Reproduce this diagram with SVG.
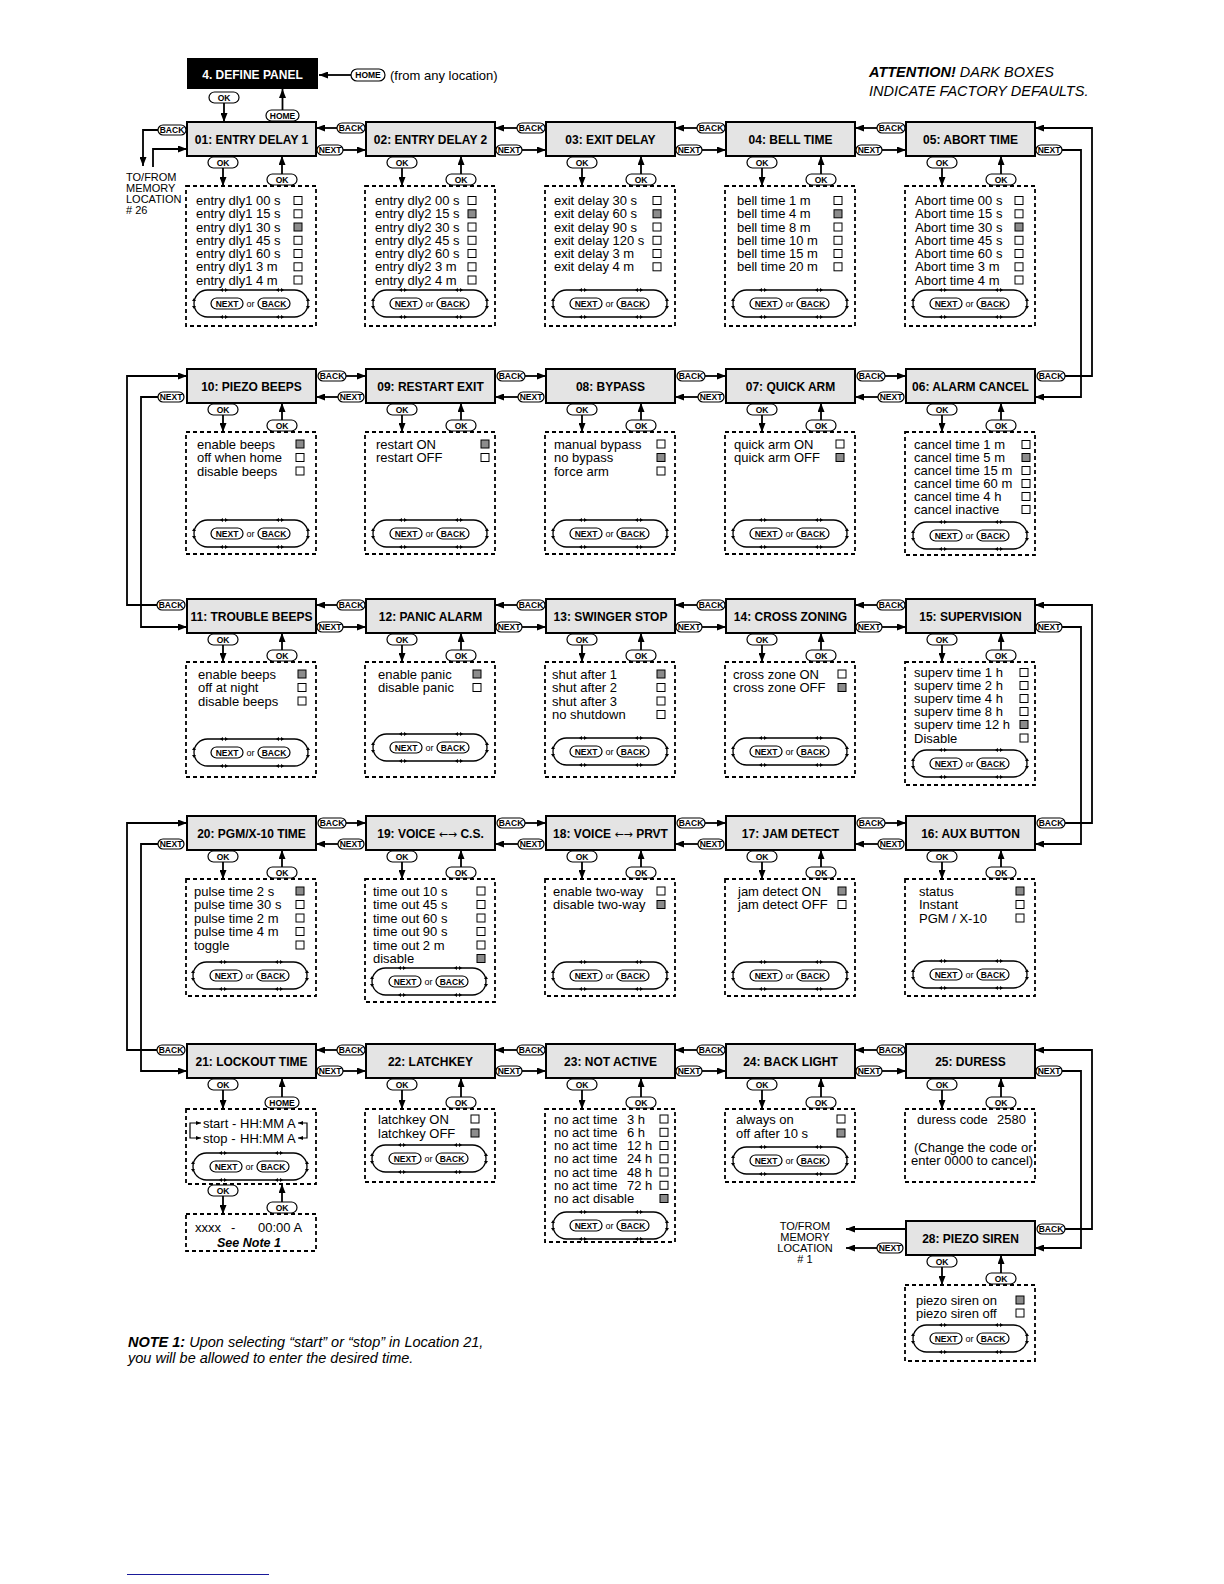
<svg xmlns="http://www.w3.org/2000/svg" width="1224" height="1584" viewBox="0 0 1224 1584">
<style>
text{font-family:"Liberation Sans",Arial,sans-serif;fill:#000}
.tt{font-size:12px;font-weight:bold;text-anchor:middle}
.ar2{font-family:"DejaVu Sans",sans-serif;font-weight:normal;font-size:11px}
.it{font-size:13px}
.sm{font-size:11px}
.pk{font-size:8.5px;font-weight:bold;text-anchor:middle}
.ok{font-size:8.5px;font-weight:bold;text-anchor:middle}
.or{font-size:9px;text-anchor:middle}
.bx{fill:#e4e4e4;stroke:#000;stroke-width:2}
.ds{fill:none;stroke:#000;stroke-width:1.8;stroke-dasharray:4 3}
.pl{fill:#fff;stroke:#000;stroke-width:1.2}
.c{fill:none;stroke:#000;stroke-width:1.8;marker-end:url(#a)}
.l{fill:none;stroke:#000;stroke-width:1.8}
.sb{fill:none;stroke:#000;stroke-width:1.2;marker-start:url(#s);marker-end:url(#s)}
</style>
<defs>
<marker id="a" viewBox="0 0 9 7" refX="9" refY="3.5" markerWidth="9" markerHeight="7" markerUnits="userSpaceOnUse" orient="auto"><path d="M0,0L9,3.5L0,7z"/></marker>
<marker id="s" viewBox="0 0 5 4" refX="5" refY="2" markerWidth="5" markerHeight="4" markerUnits="userSpaceOnUse" orient="auto-start-reverse"><path d="M0,0L5,2L0,4z"/></marker>
<rect id="e" width="8" height="8" fill="#fff" stroke="#000" stroke-width="1"/>
<rect id="f" width="8" height="8" fill="#8c8c8c" stroke="#000" stroke-width="1"/>
<g id="lp">
<rect width="114" height="27" rx="13.5" fill="none" stroke="#000" stroke-width="1.3"/>
<rect class="pl" x="17" y="8" width="32" height="11" rx="5.5"/>
<rect class="pl" x="64" y="8" width="32" height="11" rx="5.5"/>
<path d="M26,0l3,-2v4z M34,0l-3,-2v4z M82,0l3,-2v4z M90,0l-3,-2v4z M26,27l3,-2v4z M34,27l-3,-2v4z M82,27l3,-2v4z M90,27l-3,-2v4z M0,8l-2,3h4z M0,19l-2,-3h4z M114,8l-2,3h4z M114,19l-2,-3h4z"/>
</g>
</defs>
<rect width="1224" height="1584" fill="#fff"/>

<g id="notes">
<text x="869" y="77" style="font-size:14.5px;font-style:italic"><tspan style="font-weight:bold">ATTENTION!</tspan> DARK BOXES</text>
<text x="869" y="96" style="font-size:14.5px;font-style:italic">INDICATE FACTORY DEFAULTS.</text>
<text x="128" y="1347" style="font-size:14.5px;font-style:italic"><tspan style="font-weight:bold">NOTE 1:</tspan> Upon selecting “start” or “stop” in Location 21,</text>
<text x="128" y="1363" style="font-size:14.5px;font-style:italic">you will be allowed to enter the desired time.</text>
<line x1="127" y1="1574.5" x2="269" y2="1574.5" stroke="#1a1a9a" stroke-width="1"/>
</g>

<g id="n00">
<rect x="187" y="58" width="131" height="31" fill="#000"/>
<text class="tt" x="252.5" y="78.5" style="fill:#fff">4. DEFINE PANEL</text>
<text x="390" y="79.5" style="font-size:13px">(from any location)</text>
</g>

<g id="mem26">
<text class="sm" x="126" y="181">TO/FROM</text>
<text class="sm" x="126" y="191.5">MEMORY</text>
<text class="sm" x="126" y="202.5">LOCATION</text>
<text class="sm" x="126" y="213.5">#&#160;26</text>
</g>
<g id="mem1">
<text class="sm" x="805" y="1229.5" text-anchor="middle">TO/FROM</text>
<text class="sm" x="805" y="1240.5" text-anchor="middle">MEMORY</text>
<text class="sm" x="805" y="1251.5" text-anchor="middle">LOCATION</text>
<text class="sm" x="805" y="1262.5" text-anchor="middle"># 1</text>
</g>

<!-- ROW 1 -->
<g id="n01">
<rect class="bx" x="187" y="122" width="129" height="34"/>
<text class="tt" x="251.5" y="143.5">01: ENTRY DELAY 1</text>
<rect class="ds" x="186" y="186" width="130" height="140"/>
<text class="it" x="196" y="205">entry dly1 00 s</text>
<text class="it" x="196" y="218.3">entry dly1 15 s</text>
<text class="it" x="196" y="231.5">entry dly1 30 s</text>
<text class="it" x="196" y="244.8">entry dly1 45 s</text>
<text class="it" x="196" y="258">entry dly1 60 s</text>
<text class="it" x="196" y="271.3">entry dly1 3 m</text>
<text class="it" x="196" y="284.5">entry dly1 4 m</text>
<use href="#e" x="294" y="196.5"/><use href="#e" x="294" y="209.8"/><use href="#f" x="294" y="223"/><use href="#e" x="294" y="236.3"/><use href="#e" x="294" y="249.5"/><use href="#e" x="294" y="262.8"/><use href="#e" x="294" y="276"/>
<g transform="translate(194,290)"><use href="#lp"/><text class="pk" x="33" y="16.5">NEXT</text><text class="or" x="56.5" y="16.5">or</text><text class="pk" x="80" y="16.5">BACK</text></g>
</g>

<g id="n02">
<rect class="bx" x="366" y="122" width="129" height="34"/>
<text class="tt" x="430.5" y="143.5">02: ENTRY DELAY 2</text>
<rect class="ds" x="365" y="186" width="130" height="140"/>
<text class="it" x="375" y="205">entry dly2 00 s</text>
<text class="it" x="375" y="218.3">entry dly2 15 s</text>
<text class="it" x="375" y="231.5">entry dly2 30 s</text>
<text class="it" x="375" y="244.8">entry dly2 45 s</text>
<text class="it" x="375" y="258">entry dly2 60 s</text>
<text class="it" x="375" y="271.3">entry dly2 3 m</text>
<text class="it" x="375" y="284.5">entry dly2 4 m</text>
<use href="#e" x="468" y="196.5"/><use href="#f" x="468" y="209.8"/><use href="#e" x="468" y="223"/><use href="#e" x="468" y="236.3"/><use href="#e" x="468" y="249.5"/><use href="#e" x="468" y="262.8"/><use href="#e" x="468" y="276"/>
<g transform="translate(373,290)"><use href="#lp"/><text class="pk" x="33" y="16.5">NEXT</text><text class="or" x="56.5" y="16.5">or</text><text class="pk" x="80" y="16.5">BACK</text></g>
</g>

<g id="n03">
<rect class="bx" x="546" y="122" width="129" height="34"/>
<text class="tt" x="610.5" y="143.5">03: EXIT DELAY</text>
<rect class="ds" x="545" y="186" width="130" height="140"/>
<text class="it" x="554" y="205">exit delay 30 s</text>
<text class="it" x="554" y="218.3">exit delay 60 s</text>
<text class="it" x="554" y="231.5">exit delay 90 s</text>
<text class="it" x="554" y="244.8">exit delay 120 s</text>
<text class="it" x="554" y="258">exit delay 3 m</text>
<text class="it" x="554" y="271.3">exit delay 4 m</text>
<use href="#e" x="653" y="196.5"/><use href="#f" x="653" y="209.8"/><use href="#e" x="653" y="223"/><use href="#e" x="653" y="236.3"/><use href="#e" x="653" y="249.5"/><use href="#e" x="653" y="262.8"/>
<g transform="translate(553,290)"><use href="#lp"/><text class="pk" x="33" y="16.5">NEXT</text><text class="or" x="56.5" y="16.5">or</text><text class="pk" x="80" y="16.5">BACK</text></g>
</g>

<g id="n04">
<rect class="bx" x="726" y="122" width="129" height="34"/>
<text class="tt" x="790.5" y="143.5">04: BELL TIME</text>
<rect class="ds" x="725" y="186" width="130" height="140"/>
<text class="it" x="737" y="205">bell time 1 m</text>
<text class="it" x="737" y="218.3">bell time 4 m</text>
<text class="it" x="737" y="231.5">bell time 8 m</text>
<text class="it" x="737" y="244.8">bell time 10 m</text>
<text class="it" x="737" y="258">bell time 15 m</text>
<text class="it" x="737" y="271.3">bell time 20 m</text>
<use href="#e" x="834" y="196.5"/><use href="#f" x="834" y="209.8"/><use href="#e" x="834" y="223"/><use href="#e" x="834" y="236.3"/><use href="#e" x="834" y="249.5"/><use href="#e" x="834" y="262.8"/>
<g transform="translate(733,290)"><use href="#lp"/><text class="pk" x="33" y="16.5">NEXT</text><text class="or" x="56.5" y="16.5">or</text><text class="pk" x="80" y="16.5">BACK</text></g>
</g>

<g id="n05">
<rect class="bx" x="906" y="122" width="129" height="34"/>
<text class="tt" x="970.5" y="143.5">05: ABORT TIME</text>
<rect class="ds" x="905" y="186" width="130" height="140"/>
<text class="it" x="915" y="205">Abort time 00 s</text>
<text class="it" x="915" y="218.3">Abort time 15 s</text>
<text class="it" x="915" y="231.5">Abort time 30 s</text>
<text class="it" x="915" y="244.8">Abort time 45 s</text>
<text class="it" x="915" y="258">Abort time 60 s</text>
<text class="it" x="915" y="271.3">Abort time 3 m</text>
<text class="it" x="915" y="284.5">Abort time 4 m</text>
<use href="#e" x="1015" y="196.5"/><use href="#e" x="1015" y="209.8"/><use href="#f" x="1015" y="223"/><use href="#e" x="1015" y="236.3"/><use href="#e" x="1015" y="249.5"/><use href="#e" x="1015" y="262.8"/><use href="#e" x="1015" y="276"/>
<g transform="translate(913,290)"><use href="#lp"/><text class="pk" x="33" y="16.5">NEXT</text><text class="or" x="56.5" y="16.5">or</text><text class="pk" x="80" y="16.5">BACK</text></g>
</g>

<!-- ROW 2 -->
<g id="n10">
<rect class="bx" x="187" y="369" width="129" height="34"/>
<text class="tt" x="251.5" y="390.5">10: PIEZO BEEPS</text>
<rect class="ds" x="186" y="432" width="130" height="122"/>
<text class="it" x="197" y="448.5">enable beeps</text>
<text class="it" x="197" y="462">off when home</text>
<text class="it" x="197" y="475.5">disable beeps</text>
<use href="#f" x="296" y="440"/><use href="#e" x="296" y="453.5"/><use href="#e" x="296" y="467"/>
<g transform="translate(194,520)"><use href="#lp"/><text class="pk" x="33" y="16.5">NEXT</text><text class="or" x="56.5" y="16.5">or</text><text class="pk" x="80" y="16.5">BACK</text></g>
</g>

<g id="n09">
<rect class="bx" x="366" y="369" width="129" height="34"/>
<text class="tt" x="430.5" y="390.5">09: RESTART EXIT</text>
<rect class="ds" x="365" y="432" width="130" height="122"/>
<text class="it" x="376" y="448.5">restart ON</text>
<text class="it" x="376" y="462">restart OFF</text>
<use href="#f" x="481" y="440"/><use href="#e" x="481" y="453.5"/>
<g transform="translate(373,520)"><use href="#lp"/><text class="pk" x="33" y="16.5">NEXT</text><text class="or" x="56.5" y="16.5">or</text><text class="pk" x="80" y="16.5">BACK</text></g>
</g>

<g id="n08">
<rect class="bx" x="546" y="369" width="129" height="34"/>
<text class="tt" x="610.5" y="390.5">08: BYPASS</text>
<rect class="ds" x="545" y="432" width="130" height="122"/>
<text class="it" x="554" y="448.5">manual bypass</text>
<text class="it" x="554" y="462">no bypass</text>
<text class="it" x="554" y="475.5">force arm</text>
<use href="#e" x="657" y="440"/><use href="#f" x="657" y="453.5"/><use href="#e" x="657" y="467"/>
<g transform="translate(553,520)"><use href="#lp"/><text class="pk" x="33" y="16.5">NEXT</text><text class="or" x="56.5" y="16.5">or</text><text class="pk" x="80" y="16.5">BACK</text></g>
</g>

<g id="n07">
<rect class="bx" x="726" y="369" width="129" height="34"/>
<text class="tt" x="790.5" y="390.5">07: QUICK ARM</text>
<rect class="ds" x="725" y="432" width="130" height="122"/>
<text class="it" x="734" y="448.5">quick arm ON</text>
<text class="it" x="734" y="462">quick arm OFF</text>
<use href="#e" x="836" y="440"/><use href="#f" x="836" y="453.5"/>
<g transform="translate(733,520)"><use href="#lp"/><text class="pk" x="33" y="16.5">NEXT</text><text class="or" x="56.5" y="16.5">or</text><text class="pk" x="80" y="16.5">BACK</text></g>
</g>

<g id="n06">
<rect class="bx" x="906" y="369" width="129" height="34"/>
<text class="tt" x="970.5" y="390.5">06: ALARM CANCEL</text>
<rect class="ds" x="905" y="432" width="130" height="123"/>
<text class="it" x="914" y="449">cancel time 1 m</text>
<text class="it" x="914" y="462">cancel time 5 m</text>
<text class="it" x="914" y="475">cancel time 15 m</text>
<text class="it" x="914" y="488">cancel time 60 m</text>
<text class="it" x="914" y="501">cancel time 4 h</text>
<text class="it" x="914" y="514">cancel inactive</text>
<use href="#e" x="1022" y="440.5"/><use href="#f" x="1022" y="453.5"/><use href="#e" x="1022" y="466.5"/><use href="#e" x="1022" y="479.5"/><use href="#e" x="1022" y="492.5"/><use href="#e" x="1022" y="505.5"/>
<g transform="translate(913,522)"><use href="#lp"/><text class="pk" x="33" y="16.5">NEXT</text><text class="or" x="56.5" y="16.5">or</text><text class="pk" x="80" y="16.5">BACK</text></g>
</g>

<!-- ROW 3 -->
<g id="n11">
<rect class="bx" x="187" y="599" width="129" height="34"/>
<text class="tt" x="251.5" y="620.5">11: TROUBLE BEEPS</text>
<rect class="ds" x="186" y="662" width="130" height="115"/>
<text class="it" x="198" y="678.5">enable beeps</text>
<text class="it" x="198" y="692">off at night</text>
<text class="it" x="198" y="705.5">disable beeps</text>
<use href="#f" x="298" y="670"/><use href="#e" x="298" y="683.5"/><use href="#e" x="298" y="697"/>
<g transform="translate(194,739)"><use href="#lp"/><text class="pk" x="33" y="16.5">NEXT</text><text class="or" x="56.5" y="16.5">or</text><text class="pk" x="80" y="16.5">BACK</text></g>
</g>

<g id="n12">
<rect class="bx" x="366" y="599" width="129" height="34"/>
<text class="tt" x="430.5" y="620.5">12: PANIC ALARM</text>
<rect class="ds" x="365" y="662" width="130" height="115"/>
<text class="it" x="378" y="678.5">enable panic</text>
<text class="it" x="378" y="692">disable panic</text>
<use href="#f" x="473" y="670"/><use href="#e" x="473" y="683.5"/>
<g transform="translate(373,734)"><use href="#lp"/><text class="pk" x="33" y="16.5">NEXT</text><text class="or" x="56.5" y="16.5">or</text><text class="pk" x="80" y="16.5">BACK</text></g>
</g>

<g id="n13">
<rect class="bx" x="546" y="599" width="129" height="34"/>
<text class="tt" x="610.5" y="620.5">13: SWINGER STOP</text>
<rect class="ds" x="545" y="662" width="130" height="115"/>
<text class="it" x="552" y="678.5">shut after 1</text>
<text class="it" x="552" y="692">shut after 2</text>
<text class="it" x="552" y="705.5">shut after 3</text>
<text class="it" x="552" y="719">no shutdown</text>
<use href="#f" x="657" y="670"/><use href="#e" x="657" y="683.5"/><use href="#e" x="657" y="697"/><use href="#e" x="657" y="710.5"/>
<g transform="translate(553,738)"><use href="#lp"/><text class="pk" x="33" y="16.5">NEXT</text><text class="or" x="56.5" y="16.5">or</text><text class="pk" x="80" y="16.5">BACK</text></g>
</g>

<g id="n14">
<rect class="bx" x="726" y="599" width="129" height="34"/>
<text class="tt" x="790.5" y="620.5">14: CROSS ZONING</text>
<rect class="ds" x="725" y="662" width="130" height="115"/>
<text class="it" x="733" y="678.5">cross zone ON</text>
<text class="it" x="733" y="692">cross zone OFF</text>
<use href="#e" x="838" y="670"/><use href="#f" x="838" y="683.5"/>
<g transform="translate(733,738)"><use href="#lp"/><text class="pk" x="33" y="16.5">NEXT</text><text class="or" x="56.5" y="16.5">or</text><text class="pk" x="80" y="16.5">BACK</text></g>
</g>

<g id="n15">
<rect class="bx" x="906" y="599" width="129" height="34"/>
<text class="tt" x="970.5" y="620.5">15: SUPERVISION</text>
<rect class="ds" x="905" y="662" width="130" height="123"/>
<text class="it" x="914" y="677">superv time 1 h</text>
<text class="it" x="914" y="690">superv time 2 h</text>
<text class="it" x="914" y="703">superv time 4 h</text>
<text class="it" x="914" y="716">superv time 8 h</text>
<text class="it" x="914" y="729">superv time 12 h</text>
<text class="it" x="914" y="742.5">Disable</text>
<use href="#e" x="1020" y="668.5"/><use href="#e" x="1020" y="681.5"/><use href="#e" x="1020" y="694.5"/><use href="#e" x="1020" y="707.5"/><use href="#f" x="1020" y="720.5"/><use href="#e" x="1020" y="734"/>
<g transform="translate(913,750)"><use href="#lp"/><text class="pk" x="33" y="16.5">NEXT</text><text class="or" x="56.5" y="16.5">or</text><text class="pk" x="80" y="16.5">BACK</text></g>
</g>

<!-- ROW 4 -->
<g id="n20">
<rect class="bx" x="187" y="816" width="129" height="34"/>
<text class="tt" x="251.5" y="837.5">20: PGM/X-10 TIME</text>
<rect class="ds" x="186" y="879" width="130" height="117"/>
<text class="it" x="194" y="895.5">pulse time 2 s</text>
<text class="it" x="194" y="909">pulse time 30 s</text>
<text class="it" x="194" y="922.5">pulse time 2 m</text>
<text class="it" x="194" y="936">pulse time 4 m</text>
<text class="it" x="194" y="949.5">toggle</text>
<use href="#f" x="296" y="887"/><use href="#e" x="296" y="900.5"/><use href="#e" x="296" y="914"/><use href="#e" x="296" y="927.5"/><use href="#e" x="296" y="941"/>
<g transform="translate(193,962)"><use href="#lp"/><text class="pk" x="33" y="16.5">NEXT</text><text class="or" x="56.5" y="16.5">or</text><text class="pk" x="80" y="16.5">BACK</text></g>
</g>

<g id="n19">
<rect class="bx" x="366" y="816" width="129" height="34"/>
<text class="tt" x="430.5" y="837.5">19: VOICE <tspan class="ar2">←→</tspan> C.S.</text>
<rect class="ds" x="365" y="879" width="130" height="123"/>
<text class="it" x="373" y="895.5">time out 10 s</text>
<text class="it" x="373" y="909">time out 45 s</text>
<text class="it" x="373" y="922.5">time out 60 s</text>
<text class="it" x="373" y="936">time out 90 s</text>
<text class="it" x="373" y="949.5">time out 2 m</text>
<text class="it" x="373" y="963">disable</text>
<use href="#e" x="477" y="887"/><use href="#e" x="477" y="900.5"/><use href="#e" x="477" y="914"/><use href="#e" x="477" y="927.5"/><use href="#e" x="477" y="941"/><use href="#f" x="477" y="954.5"/>
<g transform="translate(372,968)"><use href="#lp"/><text class="pk" x="33" y="16.5">NEXT</text><text class="or" x="56.5" y="16.5">or</text><text class="pk" x="80" y="16.5">BACK</text></g>
</g>

<g id="n18">
<rect class="bx" x="546" y="816" width="129" height="34"/>
<text class="tt" x="610.5" y="837.5">18: VOICE <tspan class="ar2">←→</tspan> PRVT</text>
<rect class="ds" x="545" y="879" width="130" height="117"/>
<text class="it" x="553" y="895.5">enable two-way</text>
<text class="it" x="553" y="909">disable two-way</text>
<use href="#e" x="657" y="887"/><use href="#f" x="657" y="900.5"/>
<g transform="translate(553,962)"><use href="#lp"/><text class="pk" x="33" y="16.5">NEXT</text><text class="or" x="56.5" y="16.5">or</text><text class="pk" x="80" y="16.5">BACK</text></g>
</g>

<g id="n17">
<rect class="bx" x="726" y="816" width="129" height="34"/>
<text class="tt" x="790.5" y="837.5">17: JAM DETECT</text>
<rect class="ds" x="725" y="879" width="130" height="117"/>
<text class="it" x="738" y="895.5">jam detect ON</text>
<text class="it" x="738" y="909">jam detect OFF</text>
<use href="#f" x="838" y="887"/><use href="#e" x="838" y="900.5"/>
<g transform="translate(733,962)"><use href="#lp"/><text class="pk" x="33" y="16.5">NEXT</text><text class="or" x="56.5" y="16.5">or</text><text class="pk" x="80" y="16.5">BACK</text></g>
</g>

<g id="n16">
<rect class="bx" x="906" y="816" width="129" height="34"/>
<text class="tt" x="970.5" y="837.5">16: AUX BUTTON</text>
<rect class="ds" x="905" y="879" width="130" height="117"/>
<text class="it" x="919" y="895.5">status</text>
<text class="it" x="919" y="909">Instant</text>
<text class="it" x="919" y="922.5">PGM / X-10</text>
<use href="#f" x="1016" y="887"/><use href="#e" x="1016" y="900.5"/><use href="#e" x="1016" y="914"/>
<g transform="translate(913,961)"><use href="#lp"/><text class="pk" x="33" y="16.5">NEXT</text><text class="or" x="56.5" y="16.5">or</text><text class="pk" x="80" y="16.5">BACK</text></g>
</g>

<!-- ROW 5 -->
<g id="n21">
<rect class="bx" x="187" y="1044" width="129" height="34"/>
<text class="tt" x="251.5" y="1065.5">21: LOCKOUT TIME</text>
<rect class="ds" x="186" y="1109" width="130" height="75"/>
<path class="sb" d="M201,1123H190V1138H201"/>
<path class="sb" d="M298,1123H307V1138H298"/>
<text class="it" x="203" y="1127.5">start -</text>
<text class="it" x="240" y="1127.5">HH:MM A</text>
<text class="it" x="203" y="1142.5">stop -</text>
<text class="it" x="240" y="1142.5">HH:MM A</text>
<g transform="translate(193,1153)"><use href="#lp"/><text class="pk" x="33" y="16.5">NEXT</text><text class="or" x="56.5" y="16.5">or</text><text class="pk" x="80" y="16.5">BACK</text></g>
<rect class="ds" x="186" y="1214" width="130" height="37"/>
<text class="it" x="195" y="1231.5">xxxx</text>
<text class="it" x="231" y="1231.5">-</text>
<text class="it" x="258" y="1231.5">00:00 A</text>
<text x="249" y="1247" text-anchor="middle" style="font-size:12.5px;font-weight:bold;font-style:italic">See Note 1</text>
</g>

<g id="n22">
<rect class="bx" x="366" y="1044" width="129" height="34"/>
<text class="tt" x="430.5" y="1065.5">22: LATCHKEY</text>
<rect class="ds" x="365" y="1109" width="130" height="73"/>
<text class="it" x="378" y="1123.5">latchkey ON</text>
<text class="it" x="378" y="1137.5">latchkey OFF</text>
<use href="#e" x="471" y="1115"/><use href="#f" x="471" y="1129"/>
<g transform="translate(372,1145)"><use href="#lp"/><text class="pk" x="33" y="16.5">NEXT</text><text class="or" x="56.5" y="16.5">or</text><text class="pk" x="80" y="16.5">BACK</text></g>
</g>

<g id="n23">
<rect class="bx" x="546" y="1044" width="129" height="34"/>
<text class="tt" x="610.5" y="1065.5">23: NOT ACTIVE</text>
<rect class="ds" x="545" y="1109" width="130" height="133"/>
<text class="it" x="554" y="1123.5">no act time<tspan x="627">3 h</tspan></text>
<text class="it" x="554" y="1136.8">no act time<tspan x="627">6 h</tspan></text>
<text class="it" x="554" y="1150">no act time<tspan x="627">12 h</tspan></text>
<text class="it" x="554" y="1163.3">no act time<tspan x="627">24 h</tspan></text>
<text class="it" x="554" y="1176.5">no act time<tspan x="627">48 h</tspan></text>
<text class="it" x="554" y="1189.8">no act time<tspan x="627">72 h</tspan></text>
<text class="it" x="554" y="1203">no act disable</text>
<use href="#e" x="660" y="1115"/><use href="#e" x="660" y="1128.3"/><use href="#e" x="660" y="1141.5"/><use href="#e" x="660" y="1154.8"/><use href="#e" x="660" y="1168"/><use href="#e" x="660" y="1181.3"/><use href="#f" x="660" y="1194.5"/>
<g transform="translate(553,1212)"><use href="#lp"/><text class="pk" x="33" y="16.5">NEXT</text><text class="or" x="56.5" y="16.5">or</text><text class="pk" x="80" y="16.5">BACK</text></g>
</g>

<g id="n24">
<rect class="bx" x="726" y="1044" width="129" height="34"/>
<text class="tt" x="790.5" y="1065.5">24: BACK LIGHT</text>
<rect class="ds" x="725" y="1109" width="130" height="73"/>
<text class="it" x="736" y="1123.5">always on</text>
<text class="it" x="736" y="1137.5">off after 10 s</text>
<use href="#e" x="837" y="1115"/><use href="#f" x="837" y="1129"/>
<g transform="translate(733,1147)"><use href="#lp"/><text class="pk" x="33" y="16.5">NEXT</text><text class="or" x="56.5" y="16.5">or</text><text class="pk" x="80" y="16.5">BACK</text></g>
</g>

<g id="n25">
<rect class="bx" x="906" y="1044" width="129" height="34"/>
<text class="tt" x="970.5" y="1065.5">25: DURESS</text>
<rect class="ds" x="905" y="1109" width="130" height="73"/>
<text class="it" x="917" y="1123.5">duress code<tspan x="997">2580</tspan></text>
<text class="it" x="914" y="1151.5">(Change the code or</text>
<text class="it" x="911" y="1165">enter 0000 to cancel)</text>
</g>

<g id="n28">
<rect class="bx" x="906" y="1221" width="129" height="34"/>
<text class="tt" x="970.5" y="1242.5">28: PIEZO SIREN</text>
<rect class="ds" x="905" y="1285" width="130" height="76"/>
<text class="it" x="916" y="1304.5">piezo siren on</text>
<text class="it" x="916" y="1317.5">piezo siren off</text>
<use href="#f" x="1016" y="1296"/><use href="#e" x="1016" y="1309"/>
<g transform="translate(913,1325)"><use href="#lp"/><text class="pk" x="33" y="16.5">NEXT</text><text class="or" x="56.5" y="16.5">or</text><text class="pk" x="80" y="16.5">BACK</text></g>
</g>

<g id="connectors">
<path class="c" d="M224,103V122"/><rect class="pl" x="209" y="92" width="30" height="11" rx="5.5"/><text class="ok" x="224" y="100.5">OK</text>
<path class="c" d="M282.5,110V89"/><rect class="pl" x="266" y="110" width="33" height="11" rx="5.5"/><text class="ok" x="282.5" y="118.5">HOME</text>
<path class="c" d="M351,75H319"/><rect class="pl" x="351" y="69" width="34" height="12" rx="6"/><text class="ok" x="368" y="78">HOME</text>

<path class="c" d="M223,168V186"/><rect class="pl" x="208" y="157" width="30" height="11" rx="5.5"/><text class="ok" x="223" y="165.5">OK</text>
<path class="c" d="M282,174V156"/><rect class="pl" x="267" y="174" width="30" height="11" rx="5.5"/><text class="ok" x="282" y="182.5">OK</text>
<path class="c" d="M402,168V186"/><rect class="pl" x="387" y="157" width="30" height="11" rx="5.5"/><text class="ok" x="402" y="165.5">OK</text>
<path class="c" d="M461,174V156"/><rect class="pl" x="446" y="174" width="30" height="11" rx="5.5"/><text class="ok" x="461" y="182.5">OK</text>
<path class="c" d="M582,168V186"/><rect class="pl" x="567" y="157" width="30" height="11" rx="5.5"/><text class="ok" x="582" y="165.5">OK</text>
<path class="c" d="M641,174V156"/><rect class="pl" x="626" y="174" width="30" height="11" rx="5.5"/><text class="ok" x="641" y="182.5">OK</text>
<path class="c" d="M762,168V186"/><rect class="pl" x="747" y="157" width="30" height="11" rx="5.5"/><text class="ok" x="762" y="165.5">OK</text>
<path class="c" d="M821,174V156"/><rect class="pl" x="806" y="174" width="30" height="11" rx="5.5"/><text class="ok" x="821" y="182.5">OK</text>
<path class="c" d="M942,168V186"/><rect class="pl" x="927" y="157" width="30" height="11" rx="5.5"/><text class="ok" x="942" y="165.5">OK</text>
<path class="c" d="M1001,174V156"/><rect class="pl" x="986" y="174" width="30" height="11" rx="5.5"/><text class="ok" x="1001" y="182.5">OK</text>

<path class="c" d="M223,415V432"/><rect class="pl" x="208" y="404" width="30" height="11" rx="5.5"/><text class="ok" x="223" y="412.5">OK</text>
<path class="c" d="M282,420V403"/><rect class="pl" x="267" y="420" width="30" height="11" rx="5.5"/><text class="ok" x="282" y="428.5">OK</text>
<path class="c" d="M402,415V432"/><rect class="pl" x="387" y="404" width="30" height="11" rx="5.5"/><text class="ok" x="402" y="412.5">OK</text>
<path class="c" d="M461,420V403"/><rect class="pl" x="446" y="420" width="30" height="11" rx="5.5"/><text class="ok" x="461" y="428.5">OK</text>
<path class="c" d="M582,415V432"/><rect class="pl" x="567" y="404" width="30" height="11" rx="5.5"/><text class="ok" x="582" y="412.5">OK</text>
<path class="c" d="M641,420V403"/><rect class="pl" x="626" y="420" width="30" height="11" rx="5.5"/><text class="ok" x="641" y="428.5">OK</text>
<path class="c" d="M762,415V432"/><rect class="pl" x="747" y="404" width="30" height="11" rx="5.5"/><text class="ok" x="762" y="412.5">OK</text>
<path class="c" d="M821,420V403"/><rect class="pl" x="806" y="420" width="30" height="11" rx="5.5"/><text class="ok" x="821" y="428.5">OK</text>
<path class="c" d="M942,415V432"/><rect class="pl" x="927" y="404" width="30" height="11" rx="5.5"/><text class="ok" x="942" y="412.5">OK</text>
<path class="c" d="M1001,420V403"/><rect class="pl" x="986" y="420" width="30" height="11" rx="5.5"/><text class="ok" x="1001" y="428.5">OK</text>

<path class="c" d="M223,645V662"/><rect class="pl" x="208" y="634" width="30" height="11" rx="5.5"/><text class="ok" x="223" y="642.5">OK</text>
<path class="c" d="M282,650V633"/><rect class="pl" x="267" y="650" width="30" height="11" rx="5.5"/><text class="ok" x="282" y="658.5">OK</text>
<path class="c" d="M402,645V662"/><rect class="pl" x="387" y="634" width="30" height="11" rx="5.5"/><text class="ok" x="402" y="642.5">OK</text>
<path class="c" d="M461,650V633"/><rect class="pl" x="446" y="650" width="30" height="11" rx="5.5"/><text class="ok" x="461" y="658.5">OK</text>
<path class="c" d="M582,645V662"/><rect class="pl" x="567" y="634" width="30" height="11" rx="5.5"/><text class="ok" x="582" y="642.5">OK</text>
<path class="c" d="M641,650V633"/><rect class="pl" x="626" y="650" width="30" height="11" rx="5.5"/><text class="ok" x="641" y="658.5">OK</text>
<path class="c" d="M762,645V662"/><rect class="pl" x="747" y="634" width="30" height="11" rx="5.5"/><text class="ok" x="762" y="642.5">OK</text>
<path class="c" d="M821,650V633"/><rect class="pl" x="806" y="650" width="30" height="11" rx="5.5"/><text class="ok" x="821" y="658.5">OK</text>
<path class="c" d="M942,645V662"/><rect class="pl" x="927" y="634" width="30" height="11" rx="5.5"/><text class="ok" x="942" y="642.5">OK</text>
<path class="c" d="M1001,650V633"/><rect class="pl" x="986" y="650" width="30" height="11" rx="5.5"/><text class="ok" x="1001" y="658.5">OK</text>

<path class="c" d="M223,862V879"/><rect class="pl" x="208" y="851" width="30" height="11" rx="5.5"/><text class="ok" x="223" y="859.5">OK</text>
<path class="c" d="M282,867V850"/><rect class="pl" x="267" y="867" width="30" height="11" rx="5.5"/><text class="ok" x="282" y="875.5">OK</text>
<path class="c" d="M402,862V879"/><rect class="pl" x="387" y="851" width="30" height="11" rx="5.5"/><text class="ok" x="402" y="859.5">OK</text>
<path class="c" d="M461,867V850"/><rect class="pl" x="446" y="867" width="30" height="11" rx="5.5"/><text class="ok" x="461" y="875.5">OK</text>
<path class="c" d="M582,862V879"/><rect class="pl" x="567" y="851" width="30" height="11" rx="5.5"/><text class="ok" x="582" y="859.5">OK</text>
<path class="c" d="M641,867V850"/><rect class="pl" x="626" y="867" width="30" height="11" rx="5.5"/><text class="ok" x="641" y="875.5">OK</text>
<path class="c" d="M762,862V879"/><rect class="pl" x="747" y="851" width="30" height="11" rx="5.5"/><text class="ok" x="762" y="859.5">OK</text>
<path class="c" d="M821,867V850"/><rect class="pl" x="806" y="867" width="30" height="11" rx="5.5"/><text class="ok" x="821" y="875.5">OK</text>
<path class="c" d="M942,862V879"/><rect class="pl" x="927" y="851" width="30" height="11" rx="5.5"/><text class="ok" x="942" y="859.5">OK</text>
<path class="c" d="M1001,867V850"/><rect class="pl" x="986" y="867" width="30" height="11" rx="5.5"/><text class="ok" x="1001" y="875.5">OK</text>

<path class="c" d="M223,1090V1109"/><rect class="pl" x="208" y="1079" width="30" height="11" rx="5.5"/><text class="ok" x="223" y="1087.5">OK</text>
<path class="c" d="M282,1097V1078"/><rect class="pl" x="265" y="1097" width="34" height="11" rx="5.5"/><text class="ok" x="282" y="1105.5">HOME</text>
<path class="c" d="M223,1196V1214"/><rect class="pl" x="208" y="1185" width="30" height="11" rx="5.5"/><text class="ok" x="223" y="1193.5">OK</text>
<path class="c" d="M282,1202V1184"/><rect class="pl" x="267" y="1202" width="30" height="11" rx="5.5"/><text class="ok" x="282" y="1210.5">OK</text>
<path class="c" d="M402,1090V1109"/><rect class="pl" x="387" y="1079" width="30" height="11" rx="5.5"/><text class="ok" x="402" y="1087.5">OK</text>
<path class="c" d="M461,1097V1078"/><rect class="pl" x="446" y="1097" width="30" height="11" rx="5.5"/><text class="ok" x="461" y="1105.5">OK</text>
<path class="c" d="M582,1090V1109"/><rect class="pl" x="567" y="1079" width="30" height="11" rx="5.5"/><text class="ok" x="582" y="1087.5">OK</text>
<path class="c" d="M641,1097V1078"/><rect class="pl" x="626" y="1097" width="30" height="11" rx="5.5"/><text class="ok" x="641" y="1105.5">OK</text>
<path class="c" d="M762,1090V1109"/><rect class="pl" x="747" y="1079" width="30" height="11" rx="5.5"/><text class="ok" x="762" y="1087.5">OK</text>
<path class="c" d="M821,1097V1078"/><rect class="pl" x="806" y="1097" width="30" height="11" rx="5.5"/><text class="ok" x="821" y="1105.5">OK</text>
<path class="c" d="M942,1090V1109"/><rect class="pl" x="927" y="1079" width="30" height="11" rx="5.5"/><text class="ok" x="942" y="1087.5">OK</text>
<path class="c" d="M1001,1097V1078"/><rect class="pl" x="986" y="1097" width="30" height="11" rx="5.5"/><text class="ok" x="1001" y="1105.5">OK</text>
<path class="c" d="M942,1267V1285"/><rect class="pl" x="927" y="1256" width="30" height="11" rx="5.5"/><text class="ok" x="942" y="1264.5">OK</text>
<path class="c" d="M1001,1273V1255"/><rect class="pl" x="986" y="1273" width="30" height="11" rx="5.5"/><text class="ok" x="1001" y="1281.5">OK</text>

<path class="c" d="M337,128H316"/><rect class="pl" x="337" y="123" width="28" height="10" rx="5"/><text class="pk" x="351" y="131">BACK</text>
<path class="c" d="M343,150H366"/><rect class="pl" x="317" y="145" width="26" height="10" rx="5"/><text class="pk" x="330" y="153">NEXT</text>
<path class="c" d="M517,128H495"/><rect class="pl" x="517" y="123" width="28" height="10" rx="5"/><text class="pk" x="531" y="131">BACK</text>
<path class="c" d="M522,150H546"/><rect class="pl" x="496" y="145" width="26" height="10" rx="5"/><text class="pk" x="509" y="153">NEXT</text>
<path class="c" d="M697,128H675"/><rect class="pl" x="697" y="123" width="28" height="10" rx="5"/><text class="pk" x="711" y="131">BACK</text>
<path class="c" d="M702,150H726"/><rect class="pl" x="676" y="145" width="26" height="10" rx="5"/><text class="pk" x="689" y="153">NEXT</text>
<path class="c" d="M877,128H855"/><rect class="pl" x="877" y="123" width="28" height="10" rx="5"/><text class="pk" x="891" y="131">BACK</text>
<path class="c" d="M882,150H906"/><rect class="pl" x="856" y="145" width="26" height="10" rx="5"/><text class="pk" x="869" y="153">NEXT</text>

<path class="c" d="M346,376H366"/><rect class="pl" x="318" y="371" width="28" height="10" rx="5"/><text class="pk" x="332" y="379">BACK</text>
<path class="c" d="M338,397H316"/><rect class="pl" x="338" y="392" width="26" height="10" rx="5"/><text class="pk" x="351" y="400">NEXT</text>
<path class="c" d="M525,376H546"/><rect class="pl" x="497" y="371" width="28" height="10" rx="5"/><text class="pk" x="511" y="379">BACK</text>
<path class="c" d="M518,397H495"/><rect class="pl" x="518" y="392" width="26" height="10" rx="5"/><text class="pk" x="531" y="400">NEXT</text>
<path class="c" d="M705,376H726"/><rect class="pl" x="677" y="371" width="28" height="10" rx="5"/><text class="pk" x="691" y="379">BACK</text>
<path class="c" d="M698,397H675"/><rect class="pl" x="698" y="392" width="26" height="10" rx="5"/><text class="pk" x="711" y="400">NEXT</text>
<path class="c" d="M885,376H906"/><rect class="pl" x="857" y="371" width="28" height="10" rx="5"/><text class="pk" x="871" y="379">BACK</text>
<path class="c" d="M878,397H855"/><rect class="pl" x="878" y="392" width="26" height="10" rx="5"/><text class="pk" x="891" y="400">NEXT</text>

<path class="c" d="M337,605H316"/><rect class="pl" x="337" y="600" width="28" height="10" rx="5"/><text class="pk" x="351" y="608">BACK</text>
<path class="c" d="M343,627H366"/><rect class="pl" x="317" y="622" width="26" height="10" rx="5"/><text class="pk" x="330" y="630">NEXT</text>
<path class="c" d="M517,605H495"/><rect class="pl" x="517" y="600" width="28" height="10" rx="5"/><text class="pk" x="531" y="608">BACK</text>
<path class="c" d="M522,627H546"/><rect class="pl" x="496" y="622" width="26" height="10" rx="5"/><text class="pk" x="509" y="630">NEXT</text>
<path class="c" d="M697,605H675"/><rect class="pl" x="697" y="600" width="28" height="10" rx="5"/><text class="pk" x="711" y="608">BACK</text>
<path class="c" d="M702,627H726"/><rect class="pl" x="676" y="622" width="26" height="10" rx="5"/><text class="pk" x="689" y="630">NEXT</text>
<path class="c" d="M877,605H855"/><rect class="pl" x="877" y="600" width="28" height="10" rx="5"/><text class="pk" x="891" y="608">BACK</text>
<path class="c" d="M882,627H906"/><rect class="pl" x="856" y="622" width="26" height="10" rx="5"/><text class="pk" x="869" y="630">NEXT</text>

<path class="c" d="M346,823H366"/><rect class="pl" x="318" y="818" width="28" height="10" rx="5"/><text class="pk" x="332" y="826">BACK</text>
<path class="c" d="M338,844H316"/><rect class="pl" x="338" y="839" width="26" height="10" rx="5"/><text class="pk" x="351" y="847">NEXT</text>
<path class="c" d="M525,823H546"/><rect class="pl" x="497" y="818" width="28" height="10" rx="5"/><text class="pk" x="511" y="826">BACK</text>
<path class="c" d="M518,844H495"/><rect class="pl" x="518" y="839" width="26" height="10" rx="5"/><text class="pk" x="531" y="847">NEXT</text>
<path class="c" d="M705,823H726"/><rect class="pl" x="677" y="818" width="28" height="10" rx="5"/><text class="pk" x="691" y="826">BACK</text>
<path class="c" d="M698,844H675"/><rect class="pl" x="698" y="839" width="26" height="10" rx="5"/><text class="pk" x="711" y="847">NEXT</text>
<path class="c" d="M885,823H906"/><rect class="pl" x="857" y="818" width="28" height="10" rx="5"/><text class="pk" x="871" y="826">BACK</text>
<path class="c" d="M878,844H855"/><rect class="pl" x="878" y="839" width="26" height="10" rx="5"/><text class="pk" x="891" y="847">NEXT</text>

<path class="c" d="M337,1050H316"/><rect class="pl" x="337" y="1045" width="28" height="10" rx="5"/><text class="pk" x="351" y="1053">BACK</text>
<path class="c" d="M343,1071H366"/><rect class="pl" x="317" y="1066" width="26" height="10" rx="5"/><text class="pk" x="330" y="1074">NEXT</text>
<path class="c" d="M517,1050H495"/><rect class="pl" x="517" y="1045" width="28" height="10" rx="5"/><text class="pk" x="531" y="1053">BACK</text>
<path class="c" d="M522,1071H546"/><rect class="pl" x="496" y="1066" width="26" height="10" rx="5"/><text class="pk" x="509" y="1074">NEXT</text>
<path class="c" d="M697,1050H675"/><rect class="pl" x="697" y="1045" width="28" height="10" rx="5"/><text class="pk" x="711" y="1053">BACK</text>
<path class="c" d="M702,1071H726"/><rect class="pl" x="676" y="1066" width="26" height="10" rx="5"/><text class="pk" x="689" y="1074">NEXT</text>
<path class="c" d="M877,1050H855"/><rect class="pl" x="877" y="1045" width="28" height="10" rx="5"/><text class="pk" x="891" y="1053">BACK</text>
<path class="c" d="M882,1071H906"/><rect class="pl" x="856" y="1066" width="26" height="10" rx="5"/><text class="pk" x="869" y="1074">NEXT</text>

<path class="c" d="M158,130H143V166"/><rect class="pl" x="158" y="125" width="28" height="10" rx="5"/><text class="pk" x="172" y="133">BACK</text>
<path class="c" d="M153,167V149H187"/>

<path class="c" d="M157,605H127V376H187"/><rect class="pl" x="157" y="600" width="28" height="10" rx="5"/><text class="pk" x="171" y="608">BACK</text>
<path class="c" d="M158,397H141V627H187"/><rect class="pl" x="158" y="392" width="26" height="10" rx="5"/><text class="pk" x="171" y="400">NEXT</text>
<path class="c" d="M157,1050H127V823H187"/><rect class="pl" x="157" y="1045" width="28" height="10" rx="5"/><text class="pk" x="171" y="1053">BACK</text>
<path class="c" d="M158,844H141V1071H187"/><rect class="pl" x="158" y="839" width="26" height="10" rx="5"/><text class="pk" x="171" y="847">NEXT</text>

<path class="c" d="M1062,150H1081V397H1035"/><rect class="pl" x="1036" y="145" width="26" height="10" rx="5"/><text class="pk" x="1049" y="153">NEXT</text>
<path class="c" d="M1065,376H1092V128H1035"/><rect class="pl" x="1037" y="371" width="28" height="10" rx="5"/><text class="pk" x="1051" y="379">BACK</text>
<path class="c" d="M1062,627H1081V844H1035"/><rect class="pl" x="1036" y="622" width="26" height="10" rx="5"/><text class="pk" x="1049" y="630">NEXT</text>
<path class="c" d="M1065,823H1092V605H1035"/><rect class="pl" x="1037" y="818" width="28" height="10" rx="5"/><text class="pk" x="1051" y="826">BACK</text>
<path class="c" d="M1062,1071H1081V1248H1035"/><rect class="pl" x="1036" y="1066" width="26" height="10" rx="5"/><text class="pk" x="1049" y="1074">NEXT</text>
<path class="c" d="M1065,1229H1092V1050H1035"/><rect class="pl" x="1037" y="1224" width="28" height="10" rx="5"/><text class="pk" x="1051" y="1232">BACK</text>
<path class="c" d="M906,1229H846"/>
<path class="c" d="M877,1248H846"/><rect class="pl" x="877" y="1243" width="26" height="10" rx="5"/><text class="pk" x="890" y="1251">NEXT</text>
</g>
</svg>
